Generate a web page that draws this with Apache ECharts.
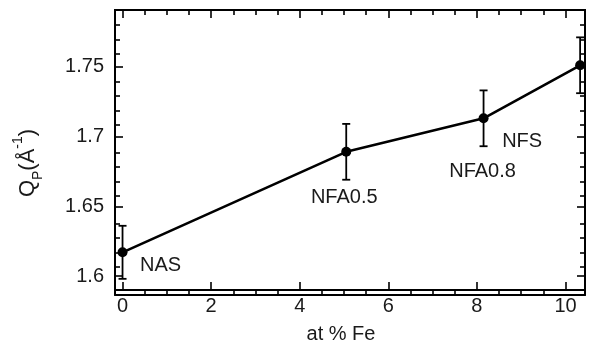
<!DOCTYPE html>
<html>
<head>
<meta charset="utf-8">
<script src="https://cdn.jsdelivr.net/npm/echarts@6/dist/echarts.min.js"></script>
<style>html,body{margin:0;padding:0;background:#fff}#c{width:590px;height:349px}</style>
</head>
<body>
<div id="c"></div>
<script>
// ---- data ----
const samples = ['NAS', 'NFA0.5', 'NFA0.8', 'NFS'];
const feContent = [0, 5.05, 8.15, 10.33];
const qp = [1.617, 1.689, 1.713, 1.751];
const qpErr = [0.019, 0.02, 0.02, 0.02];
const xMajorTicks = [0, 2, 4, 6, 8, 10];
const xMinorTicks = [0.5, 1, 1.5, 2.5, 3, 3.5, 4.5, 5, 5.5, 6.5, 7, 7.5, 8.5, 9, 9.5];
const yMajorTicks = [1.6, 1.65, 1.7, 1.75];
const yMinorTicks = [1.59, 1.61, 1.62, 1.63, 1.64, 1.66, 1.67, 1.68, 1.69, 1.71, 1.72, 1.73, 1.74, 1.76, 1.77, 1.78];

// ---- styling ----
const FONT = "'Liberation Sans', Arial, Helvetica, sans-serif";
const TXT = '#1a1a1a';
const X_MIN = -0.17, X_MAX = 10.44, Y_MIN = 1.59, Y_MAX = 1.7906;
const labelOffsets = [[38, 13], [-2, 46], [-1, 53], [-58, 76]];

const gridBox = { left: 115, right: 5, top: 10, bottom: 54 };
const lineStyle = { color: '#000', width: 2 };

function xAx(grid, pos, ticks, len, labels, extra) {
  return Object.assign({
    type: 'value', gridIndex: grid, position: pos, min: X_MIN, max: X_MAX,
    axisLine: { show: true, onZero: false, lineStyle },
    axisTick: { show: true, inside: true, length: len, customValues: ticks, lineStyle: { color: '#000', width: 1.6 } },
    axisLabel: labels ? { show: true, customValues: xMajorTicks, color: TXT, fontSize: 20, fontFamily: FONT, margin: 6 } : { show: false },
    splitLine: { show: false }
  }, extra || {});
}
function yAx(grid, pos, ticks, len, labels, extra) {
  return Object.assign({
    type: 'value', gridIndex: grid, position: pos, min: Y_MIN, max: Y_MAX,
    axisLine: { show: true, onZero: false, lineStyle },
    axisTick: { show: true, inside: true, length: len, customValues: ticks, lineStyle: { color: '#000', width: 1.6 } },
    axisLabel: labels ? { show: true, customValues: yMajorTicks, color: TXT, fontSize: 20, fontFamily: FONT, margin: 11 } : { show: false },
    splitLine: { show: false }
  }, extra || {});
}

const chart = echarts.init(document.getElementById('c'), null, { renderer: 'canvas' });

const pts = feContent.map((x, i) => ({
  value: [x, qp[i]],
  name: samples[i],
  label: { offset: labelOffsets[i] }
}));
const errData = feContent.map((x, i) => [x, qp[i] - qpErr[i], qp[i] + qpErr[i]]);

chart.setOption({
  animation: false,
  backgroundColor: '#fff',
  grid: [Object.assign({}, gridBox), Object.assign({}, gridBox)],
  xAxis: [
    xAx(0, 'bottom', xMajorTicks, 8, true, {
      name: 'at % Fe', nameLocation: 'middle', nameGap: 34,
      nameTextStyle: { color: TXT, fontSize: 20, fontFamily: FONT, padding: [0, 18, 0, 0] }
    }),
    xAx(0, 'top', xMajorTicks, 8, false),
    xAx(1, 'bottom', xMinorTicks, 5, false),
    xAx(1, 'top', xMinorTicks, 5, false)
  ],
  yAxis: [
    yAx(0, 'left', yMajorTicks, 8, true, {
      name: '{q|Q}{sub|P}{q|(Å}{sup|-1}{q|)}', nameLocation: 'middle', nameGap: 70, nameRotate: 90,
      nameTextStyle: {
        color: TXT, fontFamily: FONT, fontSize: 22, padding: [0, 26, 0, 0],
        rich: {
          q: { fontSize: 22, fontFamily: FONT, color: TXT, lineHeight: 34, verticalAlign: 'middle' },
          sub: { fontSize: 14, fontFamily: FONT, color: TXT, lineHeight: 34, verticalAlign: 'bottom' },
          sup: { fontSize: 14, fontFamily: FONT, color: TXT, lineHeight: 34, verticalAlign: 'top' }
        }
      }
    }),
    yAx(0, 'right', yMajorTicks, 8, false),
    yAx(1, 'left', yMinorTicks, 5, false),
    yAx(1, 'right', yMinorTicks, 5, false)
  ],
  series: [
    {
      type: 'custom',
      xAxisIndex: 0, yAxisIndex: 0,
      data: errData,
      z: 3,
      renderItem: function (params, api) {
        const x = api.value(0);
        const lo = api.coord([x, api.value(1)]);
        const hi = api.coord([x, api.value(2)]);
        const cap = 4;
        const st = { stroke: '#000', lineWidth: 1.8 };
        return {
          type: 'group',
          children: [
            { type: 'line', shape: { x1: lo[0], y1: lo[1], x2: hi[0], y2: hi[1] }, style: st },
            { type: 'line', shape: { x1: lo[0] - cap, y1: lo[1], x2: lo[0] + cap, y2: lo[1] }, style: st },
            { type: 'line', shape: { x1: hi[0] - cap, y1: hi[1], x2: hi[0] + cap, y2: hi[1] }, style: st }
          ]
        };
      }
    },
    {
      type: 'line',
      xAxisIndex: 0, yAxisIndex: 0,
      data: pts,
      z: 4,
      symbol: 'circle',
      symbolSize: 10,
      itemStyle: { color: '#000' },
      lineStyle: { color: '#000', width: 2.6 },
      label: {
        show: true, position: 'inside', formatter: '{b}',
        color: TXT, fontSize: 20, fontFamily: FONT, align: 'center', verticalAlign: 'middle'
      }
    }
  ]
});
</script>
</body>
</html>
